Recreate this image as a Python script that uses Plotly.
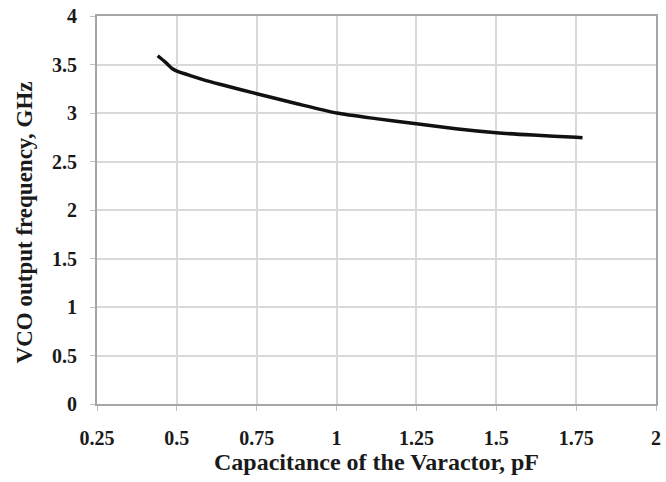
import plotly.graph_objects as go

# Varactor capacitance (pF) vs. VCO output frequency (GHz)
capacitance_pf = [0.44, 0.464, 0.486, 0.5, 0.55, 0.589, 0.65, 0.75, 0.876,
                  1.0, 1.123, 1.25, 1.373, 1.5, 1.615, 1.75, 1.77]
frequency_ghz = [3.59, 3.524, 3.456, 3.431, 3.377, 3.336, 3.284, 3.199, 3.096,
                 3.0, 2.942, 2.889, 2.837, 2.796, 2.772, 2.75, 2.746]

x_ticks = [0.25, 0.5, 0.75, 1, 1.25, 1.5, 1.75, 2]
x_tick_text = ["0.25", "0.5", "0.75", "1", "1.25", "1.5", "1.75", "2"]
y_ticks = [0, 0.5, 1, 1.5, 2, 2.5, 3, 3.5, 4]
y_tick_text = ["0", "0.5", "1", "1.5", "2", "2.5", "3", "3.5", "4"]

x_title = "Capacitance of the Varactor, pF"
y_title = "VCO output frequency, GHz"

font_family = "Liberation Serif"
text_color = "#1a1a1a"

fig = go.Figure()
fig.add_trace(go.Scatter(
    x=capacitance_pf, y=frequency_ghz, mode="lines",
    line=dict(color="#111111", width=3.5, shape="spline", smoothing=0.6),
    showlegend=False,
))

axis_common = dict(
    showgrid=True, gridcolor="#d9d9d9", gridwidth=1.5,
    showline=True, linecolor="#a6a6a6", linewidth=2, mirror=True,
    ticks="outside", ticklen=5, tickcolor="#bfbfbf",
    zeroline=False,
    tickfont=dict(family=font_family, size=20, color=text_color),
)

fig.update_xaxes(
    range=[0.25, 2], tickvals=x_ticks,
    ticktext=[f"<b>{t}</b>" for t in x_tick_text],
    ticklabelstandoff=10,
    title=dict(text=f"<b>{x_title}</b>",
               font=dict(family=font_family, size=24, color=text_color),
               standoff=2),
    **axis_common,
)
fig.update_yaxes(
    range=[0, 4], tickvals=y_ticks,
    ticktext=[f"<b>{t}</b>" for t in y_tick_text],
    ticklabelstandoff=9,
    **axis_common,
)

# Vertical axis title, placed slightly below the plot-area centre
fig.add_annotation(
    text=f"<b>{y_title}</b>", textangle=-90,
    xref="paper", yref="paper", x=0, y=0.468,
    xanchor="center", yanchor="middle", xshift=-73, showarrow=False,
    font=dict(family=font_family, size=23, color=text_color),
)

fig.update_layout(
    width=666, height=482,
    margin=dict(l=97, r=5, t=15, b=78),
    paper_bgcolor="white", plot_bgcolor="white",
    font=dict(family=font_family, color=text_color),
)

fig.write_html("out.html")
